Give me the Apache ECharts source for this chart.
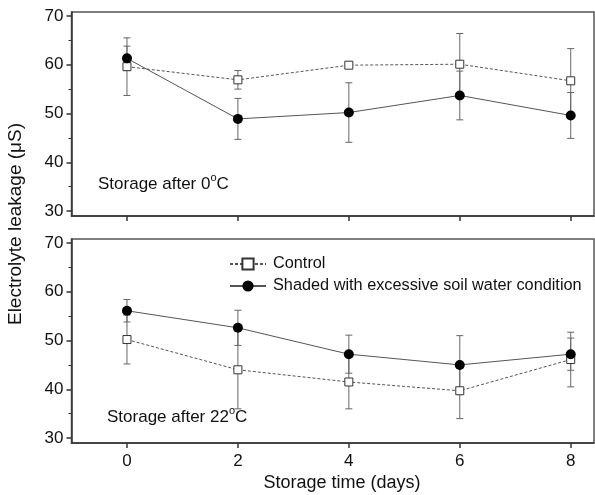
<!DOCTYPE html>
<html>
<head>
<meta charset="utf-8">
<script src="https://cdn.jsdelivr.net/npm/echarts@6/dist/echarts.min.js"></script>
<style>
  html, body { margin: 0; padding: 0; background: #fff; }
  #chart { width: 595px; height: 495px; }
</style>
</head>
<body>
<div id="chart"></div>
<script>
// storage days
var days = [0, 2, 4, 6, 8];
var seriesNames = ['Control', 'Shaded with excessive soil water condition'];

// storage after 0 degC (top panel)
var coldControl = [59.6, 56.9, 59.9, 60.1, 56.7];
var coldControlErr = [5.9, 1.9, 0.6, 6.3, 6.6];
var coldShaded = [61.3, 48.9, 50.2, 53.7, 49.6];
var coldShadedErr = [2.5, 4.2, 6.1, 5.0, 4.7];

// storage after 22 degC (bottom panel)
var warmControl = [50.2, 44.0, 41.5, 39.7, 46.1];
var warmControlErr = [5.0, 8.0, 5.5, 5.7, 5.6];
var warmShaded = [56.1, 52.6, 47.2, 45.0, 47.2];
var warmShadedErr = [2.3, 3.6, 3.9, 6.0, 3.3];

var yTicks = [30, 40, 50, 60, 70];
var yMinorTicks = [35, 45, 55, 65];
var xTicks = [0, 2, 4, 6, 8];

var FONT = '"Liberation Sans", Arial, sans-serif';
var chart = echarts.init(document.getElementById('chart'));

function pairs(xs, ys) {
    return xs.map(function (x, i) { return [x, ys[i]]; });
}
function errData(xs, ys, es) {
    return xs.map(function (x, i) { return [x, ys[i] - es[i], ys[i] + es[i]]; });
}

/**
 * 误差线
 */
function renderErrorBar(params, api) {
    var x = api.value(0);
    var lo = api.coord([x, api.value(1)]);
    var hi = api.coord([x, api.value(2)]);
    var w = 3.5;
    var style = { stroke: '#666', lineWidth: 1, fill: null };
    return {
        type: 'group',
        children: [
            { type: 'line', shape: { x1: hi[0], y1: hi[1], x2: lo[0], y2: lo[1] }, style: style },
            { type: 'line', shape: { x1: hi[0] - w, y1: hi[1], x2: hi[0] + w, y2: hi[1] }, style: style },
            { type: 'line', shape: { x1: lo[0] - w, y1: lo[1], x2: lo[0] + w, y2: lo[1] }, style: style }
        ]
    };
}

function makeXAxis(gridIndex, showLabels) {
    return {
        gridIndex: gridIndex,
        type: 'value',
        min: -1,
        max: 8.42,
        splitLine: { show: false },
        axisLine: { show: true, onZero: false, lineStyle: { color: '#333', width: 1.5 } },
        axisTick: { show: true, inside: false, length: 5, customValues: xTicks, lineStyle: { color: '#333', width: 1.5 } },
        axisLabel: {
            show: showLabels, customValues: xTicks, margin: 10,
            color: '#111', fontSize: 17, fontFamily: FONT
        }
    };
}

function makeYAxis(gridIndex) {
    return [{
        gridIndex: gridIndex,
        type: 'value',
        min: 29,
        max: 70.8,
        splitLine: { show: false },
        axisLine: { show: true, onZero: false, lineStyle: { color: '#333', width: 1.5 } },
        axisTick: { show: true, length: 5, customValues: yTicks, lineStyle: { color: '#333', width: 1.5 } },
        axisLabel: {
            customValues: yTicks, margin: 8,
            color: '#111', fontSize: 17, fontFamily: FONT
        }
    }, {
        // 次刻度
        gridIndex: gridIndex,
        type: 'value',
        position: 'left',
        min: 29,
        max: 70.8,
        splitLine: { show: false },
        axisLine: { show: false, onZero: false },
        axisTick: { show: true, length: 3, customValues: yMinorTicks, lineStyle: { color: '#333', width: 1 } },
        axisLabel: { show: false }
    }];
}

function lineSeries(name, gridIndex, data, isControl) {
    return {
        name: name,
        type: 'line',
        xAxisIndex: gridIndex,
        yAxisIndex: gridIndex * 2,
        data: data,
        symbol: isControl ? 'rect' : 'circle',
        symbolSize: isControl ? 8 : 10,
        showSymbol: true,
        z: 3,
        lineStyle: { color: '#555', width: 1, type: isControl ? [3, 2] : 'solid' },
        itemStyle: isControl
            ? { color: '#fff', borderColor: '#333', borderWidth: 1 }
            : { color: '#000', borderColor: '#000', borderWidth: 0 },
        emphasis: { disabled: true },
        animation: false
    };
}

function errSeries(gridIndex, data) {
    return {
        type: 'custom',
        name: 'err',
        xAxisIndex: gridIndex,
        yAxisIndex: gridIndex * 2,
        renderItem: renderErrorBar,
        encode: { x: 0, y: [1, 2] },
        data: data,
        z: 1,
        silent: true,
        animation: false
    };
}

var panelRich = {
    a: { fontSize: 17, fontFamily: FONT, fill: '#111', lineHeight: 24 },
    s: { fontSize: 11, fontFamily: FONT, fill: '#111', verticalAlign: 'top', lineHeight: 10 }
};

var option = {
    backgroundColor: '#fff',
    animation: false,
    grid: [
        { left: 71.5, top: 12, width: 522.5, height: 204, show: true, borderColor: '#555', borderWidth: 1.5, backgroundColor: 'transparent' },
        { left: 71.5, top: 239, width: 522.5, height: 204, show: true, borderColor: '#555', borderWidth: 1.5, backgroundColor: 'transparent' }
    ],
    legend: {
        data: seriesNames,
        orient: 'vertical',
        left: 229,
        top: 256,
        padding: 0,
        itemWidth: 36,
        itemHeight: 14,
        itemGap: 6,
        selectedMode: false,
        textStyle: { color: '#111', fontSize: 16.3, lineHeight: 14, fontFamily: FONT, padding: [0, 0, 0, 2] }
    },
    xAxis: [makeXAxis(0, false), makeXAxis(1, true)],
    yAxis: makeYAxis(0).concat(makeYAxis(1)),
    series: [
        errSeries(0, errData(days, coldControl, coldControlErr)),
        errSeries(0, errData(days, coldShaded, coldShadedErr)),
        lineSeries(seriesNames[0], 0, pairs(days, coldControl), true),
        lineSeries(seriesNames[1], 0, pairs(days, coldShaded), false),
        errSeries(1, errData(days, warmControl, warmControlErr)),
        errSeries(1, errData(days, warmShaded, warmShadedErr)),
        lineSeries(seriesNames[0], 1, pairs(days, warmControl), true),
        lineSeries(seriesNames[1], 1, pairs(days, warmShaded), false)
    ],
    graphic: [
        {
            type: 'text', left: 98, top: 172,
            style: { text: '{a|Storage after 0}{s|o}{a|C}', rich: panelRich }
        },
        {
            type: 'text', left: 107, top: 405,
            style: { text: '{a|Storage after 22}{s|o}{a|C}', rich: panelRich }
        },
        {
            type: 'text', x: 342, y: 483,
            style: { text: 'Storage time (days)', fontSize: 18, fontFamily: FONT, fill: '#111', align: 'center', verticalAlign: 'middle' }
        },
        {
            type: 'text', x: 16, y: 224, rotation: Math.PI / 2,
            style: { text: 'Electrolyte leakage (\u03bcS)', fontSize: 19, fontFamily: FONT, fill: '#111', align: 'center', verticalAlign: 'middle' }
        }
    ]
};

chart.setOption(option);
</script>
</body>
</html>
